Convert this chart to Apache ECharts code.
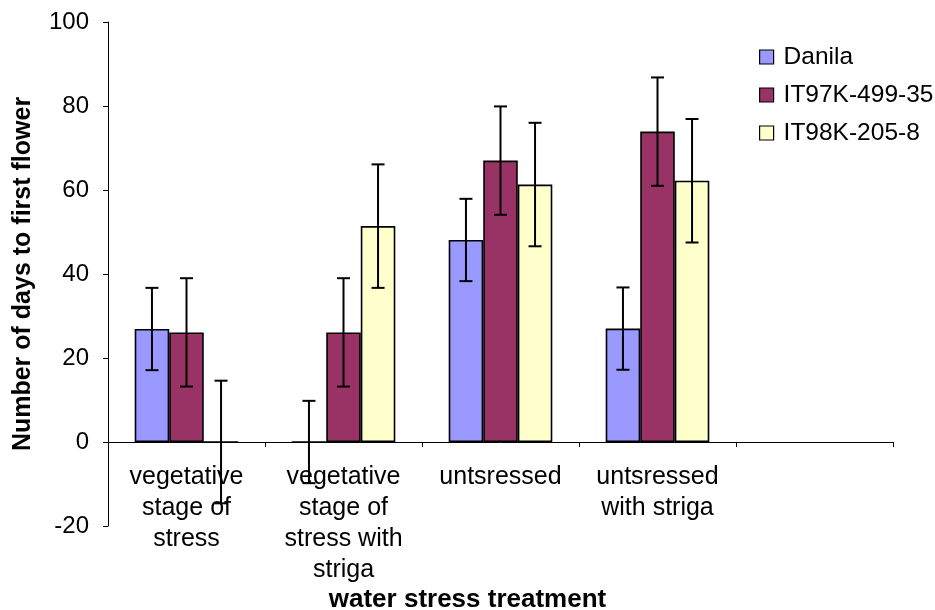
<!DOCTYPE html>
<html><head><meta charset="utf-8">
<script src="https://cdn.jsdelivr.net/npm/echarts@6/dist/echarts.min.js"></script>
<style>html,body{margin:0;padding:0;background:#fff}#c{width:935px;height:610px}</style>
</head><body><div id="c"></div>
<script>
var categories = ['vegetative\nstage of\nstress', 'vegetative\nstage of\nstress with\nstriga', 'untsressed', 'untsressed\nwith striga', ''];
var seriesNames = ['Danila', 'IT97K-499-35', 'IT98K-205-8'];
var danila = [26.9, 0, 48.1, 27.0, null];
var it97 = [26.1, 26.1, 67.0, 73.9, null];
var it98 = [0, 51.4, 61.3, 62.2, null];
var errDanila = [9.8, 9.8, 9.8, 9.8, null];
var errIt97 = [12.9, 12.9, 12.9, 12.9, null];
var errIt98 = [14.6, 14.7, 14.7, 14.7, null];
var yTicks = { min: -20, max: 100, interval: 20 };

var colors = ['#9999FF', '#993366', '#FFFFCC'];
var means = [danila, it97, it98];
var errs = [errDanila, errIt97, errIt98];
var catGap = 0.34;
var font = '"Liberation Sans", Arial, sans-serif';

var chart = echarts.init(document.getElementById('c'));
var series = [];
seriesNames.forEach(function (n, i) {
  series.push({
    name: n, type: 'bar', data: means[i], barGap: '0%', barCategoryGap: (catGap * 100) + '%',
    itemStyle: { color: colors[i], borderColor: '#000', borderWidth: 1.6 },
    emphasis: { disabled: true }, z: 2
  });
});
seriesNames.forEach(function (n, i) {
  var d = [];
  means[i].forEach(function (m, k) { if (m !== null) d.push([k, m, errs[i][k]]); });
  series.push({
    type: 'custom', z: 5, silent: true,
    data: d,
    renderItem: function (params, api) {
      var k = api.value(0), m = api.value(1), e = api.value(2);
      var cw = api.size([1, 0])[0];
      var bw = cw * (1 - catGap) / 3;
      var c = api.coord([k, m]);
      var x = c[0] + (i - 1) * bw;
      var top = api.coord([k, m + e])[1];
      var bot = api.coord([k, m - e])[1];
      var cap = 6.5;
      var st = { stroke: '#000', lineWidth: 2 };
      return { type: 'group', children: [
        { type: 'line', shape: { x1: x, y1: top, x2: x, y2: bot }, style: st },
        { type: 'line', shape: { x1: x - cap, y1: top, x2: x + cap, y2: top }, style: st },
        { type: 'line', shape: { x1: x - cap, y1: bot, x2: x + cap, y2: bot }, style: st }
      ]};
    }
  });
});

chart.setOption({
  animation: false,
  backgroundColor: '#fff',
  textStyle: { fontFamily: font },
  grid: { left: 108, right: 42, top: 22, bottom: 84, containLabel: false, outerBoundsMode: 'none' },
  legend: {
    data: seriesNames, orient: 'vertical', left: 754, top: 38,
    icon: 'rect', itemWidth: 14, itemHeight: 14, itemGap: 10,
    itemStyle: { borderColor: '#000', borderWidth: 1.2 },
    textStyle: { fontSize: 24.5, color: '#000', fontFamily: font, lineHeight: 28, padding: [0, 0, 0, 5] },
    selectedMode: false
  },
  xAxis: {
    type: 'category', data: categories,
    axisLine: { onZero: true, lineStyle: { color: '#000', width: 1 } },
    axisTick: { show: true, length: 5, lineStyle: { color: '#000' }, alignWithLabel: false },
    axisLabel: { interval: 0, fontSize: 25, color: '#000', lineHeight: 31, margin: -64, fontFamily: font },
    splitLine: { show: false }
  },
  yAxis: {
    type: 'value', min: yTicks.min, max: yTicks.max, interval: yTicks.interval,
    name: 'Number of days to first flower', nameLocation: 'middle', nameGap: 72,
    nameTextStyle: { fontSize: 25, fontWeight: 'bold', color: '#000', fontFamily: font },
    axisLine: { show: true, lineStyle: { color: '#000', width: 1 } },
    axisTick: { show: true, length: 5, lineStyle: { color: '#000' } },
    axisLabel: { fontSize: 24, color: '#000', margin: 19, fontFamily: font },
    splitLine: { show: false }
  },
  graphic: [{
    type: 'text', left: 'center', top: 587,
    style: { text: 'water stress treatment', font: 'bold 26px ' + font, fill: '#000' }
  }],
  series: series
});
</script></body></html>
